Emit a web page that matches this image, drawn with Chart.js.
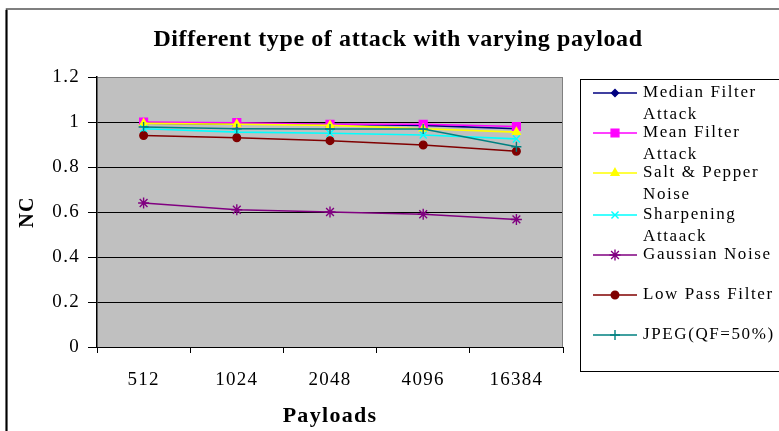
<!DOCTYPE html>
<html>
<head>
<meta charset="utf-8">
<title>Different type of attack with varying payload</title>
<script src="https://cdn.jsdelivr.net/npm/chart.js@4/dist/chart.umd.min.js"></script>
<style>
  html, body { margin: 0; padding: 0; background: #ffffff; }
  canvas { display: block; }
</style>
</head>
<body>
<canvas id="c" width="779" height="431"></canvas>
<script>
// Payload sizes on the x axis
const payloads = ['512', '1024', '2048', '4096', '16384'];
// Y axis tick labels (NC from 0 to 1.2)
const yTickLabels = ['0', '0.2', '0.4', '0.6', '0.8', '1', '1.2'];

// NC values per attack type
const medianFilter = [0.995, 0.99, 0.99, 0.985, 0.97];
const meanFilter   = [1.0, 0.997, 0.99, 0.99, 0.98];
const saltPepper   = [0.994, 0.99, 0.985, 0.97, 0.955];
const sharpening   = [0.970, 0.955, 0.95, 0.942, 0.925];
const gaussian     = [0.64, 0.61, 0.60, 0.59, 0.567];
const lowPass      = [0.94, 0.93, 0.917, 0.898, 0.87];
const jpeg         = [0.978, 0.97, 0.969, 0.969, 0.89];

// Legend text, split into the lines shown in the legend box
const seriesNames = [
  ['Median Filter', 'Attack'],
  ['Mean Filter', 'Attack'],
  ['Salt & Pepper', 'Noise'],
  ['Sharpening', 'Attaack'],
  ['Gaussian Noise'],
  ['Low Pass Filter'],
  ['JPEG(QF=50%)']
];

const SERIF = '"Liberation Serif", "DejaVu Serif", serif';

function series(i, values, color, style, radius) {
  return {
    label: seriesNames[i].join(' '),
    data: values,
    borderColor: color,
    backgroundColor: color,
    borderWidth: 1.6,
    pointStyle: style,
    pointRadius: radius,
    pointHoverRadius: radius,
    pointBorderColor: color,
    pointBackgroundColor: color,
    pointBorderWidth: 1.4,
    tension: 0,
    order: 10 - i
  };
}

const datasets = [
  series(0, medianFilter, '#000080', 'rectRot', 3.5),
  series(1, meanFilter,   '#FF00FF', 'rect', 5.5),
  series(2, saltPepper,   '#FFFF00', 'triangle', 4.5),
  series(3, sharpening,   '#00FFFF', 'crossRot', 5),
  series(4, gaussian,     '#800080', 'star', 5.5),
  series(5, lowPass,      '#800000', 'circle', 3.8),
  series(6, jpeg,         '#008080', 'cross', 5)
];

const LETTER = '1.3px';

// Simple marker drawing for the legend, matching the point styles above
function legendMarker(ctx, ds, x, y) {
  ctx.save();
  ctx.fillStyle = ds.pointBackgroundColor;
  ctx.strokeStyle = ds.pointBorderColor;
  ctx.lineWidth = ds.pointBorderWidth;
  if (Chart.helpers && Chart.helpers.drawPoint) {
    Chart.helpers.drawPoint(ctx, {
      pointStyle: ds.pointStyle,
      radius: ds.pointRadius,
      rotation: 0,
      borderWidth: ds.pointBorderWidth
    }, x, y);
  } else {
    ctx.beginPath();
    ctx.arc(x, y, ds.pointRadius, 0, Math.PI * 2);
    ctx.fill();
  }
  ctx.restore();
}

// Grey plot background, frame, title and the boxed legend
const decorations = {
  id: 'decorations',
  beforeUpdate(chart) { chart.ctx.letterSpacing = LETTER; },
  beforeDraw(chart) {
    const ctx = chart.ctx;
    const a = chart.chartArea;
    ctx.save();
    ctx.fillStyle = '#ffffff';
    ctx.fillRect(0, 0, chart.width, chart.height);
    ctx.fillStyle = '#C0C0C0';
    ctx.fillRect(a.left, a.top, a.right - a.left, a.bottom - a.top);
    ctx.restore();
    ctx.letterSpacing = LETTER;
  },
  beforeDatasetsDraw(chart) {
    const ctx = chart.ctx;
    const a = chart.chartArea;
    ctx.save();
    ctx.strokeStyle = '#808080';
    ctx.lineWidth = 1;
    ctx.beginPath();
    ctx.moveTo(Math.round(a.right) - 0.5, a.top);
    ctx.lineTo(Math.round(a.right) - 0.5, a.bottom);
    ctx.stroke();
    ctx.restore();
  },
  afterDraw(chart) {
    const ctx = chart.ctx;
    ctx.save();
    // outer frame
    ctx.strokeStyle = '#555555';
    ctx.lineWidth = 1.5;
    ctx.beginPath();
    ctx.moveTo(6.5, 440);
    ctx.lineTo(6.5, 9);
    ctx.lineTo(790, 9);
    ctx.stroke();
    ctx.strokeStyle = '#000000';
    ctx.lineWidth = 2;
    ctx.beginPath();
    ctx.moveTo(6.5, 440);
    ctx.lineTo(6.5, 10);
    ctx.stroke();

    // title
    ctx.letterSpacing = '0.6px';
    ctx.fillStyle = '#000000';
    ctx.font = 'bold 24px ' + SERIF;
    ctx.textAlign = 'center';
    ctx.textBaseline = 'alphabetic';
    ctx.fillText('Different type of attack with varying payload', 398, 46);

    // legend box
    ctx.letterSpacing = '0px';
    ctx.strokeStyle = '#000000';
    ctx.lineWidth = 1;
    ctx.strokeRect(580.5, 79.5, 230, 292);

    const rowY = [93, 133, 173, 215, 255, 295, 335];
    chart.data.datasets.forEach((ds, i) => {
      const y = rowY[i];
      ctx.letterSpacing = '0px';
      ctx.strokeStyle = ds.borderColor;
      ctx.lineWidth = 1.6;
      ctx.beginPath();
      ctx.moveTo(593, y);
      ctx.lineTo(637, y);
      ctx.stroke();
      legendMarker(ctx, ds, 615, y);
      ctx.fillStyle = '#000000';
      ctx.font = '17px ' + SERIF;
      ctx.textAlign = 'left';
      ctx.textBaseline = 'middle';
      ctx.letterSpacing = '1.6px';
      seriesNames[i].forEach((line, k) => {
        ctx.fillText(line, 643, y + k * 22);
      });
    });
    ctx.restore();
  }
};

new Chart(document.getElementById('c'), {
  type: 'line',
  data: { labels: payloads, datasets: datasets },
  options: {
    responsive: false,
    devicePixelRatio: 1,
    animation: false,
    layout: { padding: { left: 10, right: 216, top: 77, bottom: 0 } },
    plugins: {
      legend: { display: false },
      title: { display: false },
      tooltip: { enabled: false }
    },
    scales: {
      x: {
        type: 'category',
        offset: true,
        afterFit(scale) {
          scale.height = 84;
          scale.paddingLeft = 0;
          scale.paddingRight = 0;
        },
        grid: {
          offset: true,
          drawOnChartArea: false,
          drawTicks: true,
          tickLength: 6,
          tickColor: '#000000',
          tickWidth: 1
        },
        border: { display: true, color: '#000000', width: 1 },
        ticks: {
          color: '#000000',
          font: { family: SERIF, size: 19 },
          padding: 16,
          maxRotation: 0,
          autoSkip: false
        },
        title: {
          display: true,
          text: 'Payloads',
          color: '#000000',
          font: { family: SERIF, size: 22, weight: 'bold' },
          padding: { top: 0, bottom: 1 }
        }
      },
      y: {
        min: 0,
        max: 1.2,
        afterFit(scale) {
          scale.width = 87;
          scale.paddingTop = 0;
          scale.paddingBottom = 0;
        },
        afterBuildTicks(scale) {
          scale.ticks = yTickLabels.map(t => ({ value: parseFloat(t) }));
        },
        grid: {
          color: (c) => (c.tick && c.tick.value >= 1.2 ? '#808080' : '#000000'),
          lineWidth: 1,
          drawTicks: true,
          tickLength: 9,
          tickColor: '#000000'
        },
        border: { display: true, color: '#000000', width: 1.5 },
        ticks: {
          color: '#000000',
          font: { family: SERIF, size: 19 },
          padding: 8,
          callback: (v, i) => yTickLabels[i]
        },
        title: {
          display: true,
          text: 'NC',
          color: '#000000',
          font: { family: SERIF, size: 20, weight: 'bold' },
          padding: { top: 6, bottom: 0 }
        }
      }
    }
  },
  plugins: [decorations]
});
</script>
</body>
</html>
